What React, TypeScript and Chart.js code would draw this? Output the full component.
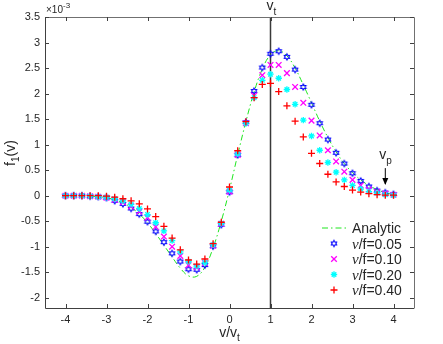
import React, { useEffect, useRef } from "react";
import { Chart, registerables } from "chart.js";

Chart.register(...registerables);

// v / v_t sample positions
const vValues = [
  -4, -3.8, -3.6, -3.4, -3.2, -3, -2.8, -2.6, -2.4, -2.2, -2, -1.8, -1.6, -1.4, -1.2, -1, -0.8, -0.6, -0.4, -0.2,
  0, 0.2, 0.4, 0.6, 0.8, 1, 1.2, 1.4, 1.6, 1.8, 2, 2.2, 2.4, 2.6, 2.8, 3, 3.2, 3.4, 3.6, 3.8, 4,
];

// f1(v) in units of 1e-3
const analytic = [
  0, 0, 0, -0.01, -0.02, -0.04, -0.08, -0.14, -0.23, -0.36, -0.53, -0.74, -0.97, -1.2, -1.42, -1.57, -1.58, -1.4, -1.02, -0.5,
  0.12, 0.8, 1.45, 2.03, 2.48, 2.76, 2.84, 2.74, 2.5, 2.17, 1.82, 1.46, 1.14, 0.86, 0.63, 0.45, 0.31, 0.2, 0.12, 0.06, 0.02,
];
const nu005 = [
  0, 0, 0, -0.01, -0.02, -0.04, -0.1, -0.16, -0.25, -0.36, -0.51, -0.7, -0.91, -1.13, -1.29, -1.44, -1.45, -1.36, -0.99, -0.57,
  0.07, 0.8, 1.44, 2.05, 2.51, 2.78, 2.83, 2.72, 2.47, 2.13, 1.78, 1.42, 1.1, 0.84, 0.63, 0.44, 0.29, 0.18, 0.1, 0.06, 0.03,
];
const nu010 = [
  0, 0, 0, -0.01, -0.02, -0.04, -0.08, -0.13, -0.21, -0.31, -0.43, -0.61, -0.8, -1.0, -1.18, -1.36, -1.4, -1.32, -0.98, -0.55,
  0.08, 0.8, 1.42, 1.96, 2.36, 2.56, 2.56, 2.4, 2.13, 1.82, 1.47, 1.18, 0.89, 0.67, 0.47, 0.31, 0.2, 0.12, 0.07, 0.04, 0.02,
];
const nu020 = [
  0, 0, 0, -0.01, -0.02, -0.03, -0.06, -0.1, -0.17, -0.25, -0.37, -0.53, -0.69, -0.88, -1.1, -1.29, -1.38, -1.31, -0.96, -0.54,
  0.11, 0.82, 1.42, 1.92, 2.26, 2.38, 2.3, 2.08, 1.79, 1.48, 1.17, 0.89, 0.65, 0.46, 0.31, 0.2, 0.13, 0.08, 0.05, 0.02, 0.01,
];
const nu040 = [
  0, 0, 0, 0, 0, -0.01, -0.03, -0.06, -0.1, -0.16, -0.26, -0.41, -0.6, -0.83, -1.06, -1.26, -1.34, -1.24, -0.94, -0.52,
  0.17, 0.88, 1.45, 1.92, 2.18, 2.2, 2.04, 1.76, 1.46, 1.15, 0.83, 0.63, 0.42, 0.27, 0.18, 0.11, 0.07, 0.04, 0.02, 0.01, 0.01,
];

const xTicks = [-4, -3, -2, -1, 0, 1, 2, 3, 4];
const yTicks = [-2, -1.5, -1, -0.5, 0, 0.5, 1, 1.5, 2, 2.5, 3, 3.5];
const legendLabels = ["Analytic", "0.05", "0.10", "0.20", "0.40"];

const SANS = '"Liberation Sans", Arial, sans-serif';
const SERIF = '"Liberation Serif", "Times New Roman", serif';
const TXT = "#262626";
const GREEN = "#1ee61e";

function hexagramPath(g: CanvasRenderingContext2D, cx: number, cy: number, R: number) {
  g.beginPath();
  for (let i = 0; i < 12; i++) {
    const r = i % 2 === 0 ? R : R / Math.sqrt(3);
    const a = -Math.PI / 2 + (i * Math.PI) / 6;
    const px = cx + r * Math.cos(a);
    const py = cy + r * Math.sin(a);
    if (i === 0) g.moveTo(px, py);
    else g.lineTo(px, py);
  }
  g.closePath();
}

function makeHexagram(color: string, R: number, lw: number) {
  const size = 12;
  const c = document.createElement("canvas");
  c.width = size;
  c.height = size;
  const g = c.getContext("2d")!;
  hexagramPath(g, size / 2, size / 2, R);
  g.strokeStyle = color;
  g.lineWidth = lw;
  g.stroke();
  return c;
}

const toPts = (ys: number[]) => vValues.map((v, i) => ({ x: v, y: ys[i] }));

export default function App() {
  const ref = useRef<HTMLCanvasElement | null>(null);

  useEffect(() => {
    if (!ref.current) return;
    const hex = makeHexagram("#0000ff", 3.1, 1.1);

    const overlay = {
      id: "overlay",
      beforeDatasetsDraw(chart: any) {
        const { ctx, chartArea: ca, scales } = chart;
        const x = scales.x;
        const px = x.getPixelForValue(1);
        ctx.save();
        ctx.strokeStyle = "#3a3a3a";
        ctx.lineWidth = 1.5;
        ctx.beginPath();
        ctx.moveTo(px, ca.top);
        ctx.lineTo(px, ca.bottom);
        ctx.stroke();
        ctx.restore();
      },
      afterDraw(chart: any) {
        const { ctx, chartArea: ca, scales } = chart;
        const x = scales.x;
        const y = scales.y;
        ctx.save();
        // box
        ctx.lineWidth = 1;
        ctx.strokeStyle = "#404040";
        ctx.beginPath();
        ctx.moveTo(ca.left + 0.5, ca.top);
        ctx.lineTo(ca.left + 0.5, ca.bottom + 0.5);
        ctx.lineTo(ca.right, ca.bottom + 0.5);
        ctx.stroke();
        ctx.strokeStyle = "#707070";
        ctx.beginPath();
        ctx.moveTo(ca.left, ca.top + 0.5);
        ctx.lineTo(ca.right + 0.5, ca.top + 0.5);
        ctx.lineTo(ca.right + 0.5, ca.bottom + 0.5);
        ctx.stroke();
        // inward ticks
        ctx.strokeStyle = "#404040";
        const tl = 4;
        ctx.beginPath();
        xTicks.forEach((t) => {
          const p = Math.round(x.getPixelForValue(t)) + 0.5;
          ctx.moveTo(p, ca.bottom);
          ctx.lineTo(p, ca.bottom - tl);
          ctx.moveTo(p, ca.top);
          ctx.lineTo(p, ca.top + tl);
        });
        yTicks.forEach((t) => {
          const p = Math.round(y.getPixelForValue(t)) + 0.5;
          ctx.moveTo(ca.left, p);
          ctx.lineTo(ca.left + tl, p);
          ctx.moveTo(ca.right, p);
          ctx.lineTo(ca.right - tl, p);
        });
        ctx.stroke();

        ctx.fillStyle = TXT;
        ctx.textBaseline = "alphabetic";
        // x10^-3
        ctx.textAlign = "left";
        ctx.font = `10px ${SANS}`;
        ctx.fillText("\u00d710", ca.left + 1, 13);
        const w10 = ctx.measureText("\u00d710").width;
        ctx.font = `8px ${SANS}`;
        ctx.fillText("-3", ca.left + 1 + w10, 8);

        // v_t label
        const pv = x.getPixelForValue(1);
        ctx.font = `14px ${SANS}`;
        ctx.fillText("v", pv - 4, 10);
        ctx.font = `10px ${SANS}`;
        ctx.fillText("t", pv + 3, 15);

        // v_p label and arrow
        const pa = x.getPixelForValue(3.8);
        ctx.font = `14px ${SANS}`;
        ctx.fillText("v", pa - 6, 159);
        ctx.font = `10px ${SANS}`;
        ctx.fillText("p", pa + 1, 164);
        const a0 = y.getPixelForValue(0.54);
        const a1 = y.getPixelForValue(0.23);
        ctx.strokeStyle = "#000";
        ctx.lineWidth = 1;
        ctx.beginPath();
        ctx.moveTo(pa, a0);
        ctx.lineTo(pa, a1);
        ctx.stroke();
        ctx.fillStyle = "#000";
        ctx.beginPath();
        ctx.moveTo(pa, a1 + 1);
        ctx.lineTo(pa - 3, a1 - 6);
        ctx.lineTo(pa + 3, a1 - 6);
        ctx.closePath();
        ctx.fill();
        ctx.fillStyle = TXT;

        // x axis title v/v_t
        ctx.font = `14px ${SANS}`;
        const s1 = "v/v";
        const w1 = ctx.measureText(s1).width;
        ctx.font = `10px ${SANS}`;
        const w2 = ctx.measureText("t").width;
        const cx = (ca.left + ca.right) / 2;
        const sx = cx - (w1 + w2) / 2;
        ctx.font = `14px ${SANS}`;
        ctx.fillText(s1, sx, 337);
        ctx.font = `10px ${SANS}`;
        ctx.fillText("t", sx + w1, 341);

        // y axis title f_1(v)
        ctx.save();
        ctx.translate(15, 153);
        ctx.rotate(-Math.PI / 2);
        ctx.font = `14px ${SANS}`;
        const wf = ctx.measureText("f").width;
        const wv = ctx.measureText("(v)").width;
        ctx.font = `10px ${SANS}`;
        const ws = ctx.measureText("1").width;
        const tot = wf + ws + wv;
        let ox = -tot / 2;
        ctx.font = `14px ${SANS}`;
        ctx.fillText("f", ox, 0);
        ox += wf;
        ctx.font = `10px ${SANS}`;
        ctx.fillText("1", ox, 4);
        ox += ws;
        ctx.font = `14px ${SANS}`;
        ctx.fillText("(v)", ox, 0);
        ctx.restore();

        // legend
        const lx = 334;
        const tx = 352;
        const rows = [228, 243.5, 259, 274.5, 290];
        ctx.strokeStyle = GREEN;
        ctx.lineWidth = 1;
        ctx.setLineDash([6, 3, 1.5, 3]);
        ctx.beginPath();
        ctx.moveTo(322, rows[0]);
        ctx.lineTo(348, rows[0]);
        ctx.stroke();
        ctx.setLineDash([]);
        ctx.fillStyle = TXT;
        ctx.font = `14px ${SANS}`;
        ctx.fillText(legendLabels[0], tx, rows[0] + 5);
        ctx.drawImage(hex, lx - 6, rows[1] - 6);
        ctx.lineWidth = 1.3;
        ctx.strokeStyle = "#ff00ff";
        ctx.beginPath();
        const d = 2.8;
        ctx.moveTo(lx - d, rows[2] - d);
        ctx.lineTo(lx + d, rows[2] + d);
        ctx.moveTo(lx - d, rows[2] + d);
        ctx.lineTo(lx + d, rows[2] - d);
        ctx.stroke();
        ctx.strokeStyle = "#00ffff";
        ctx.beginPath();
        const r = 3.2;
        const q = r * 0.707;
        ctx.moveTo(lx - r, rows[3]);
        ctx.lineTo(lx + r, rows[3]);
        ctx.moveTo(lx, rows[3] - r);
        ctx.lineTo(lx, rows[3] + r);
        ctx.moveTo(lx - q, rows[3] - q);
        ctx.lineTo(lx + q, rows[3] + q);
        ctx.moveTo(lx - q, rows[3] + q);
        ctx.lineTo(lx + q, rows[3] - q);
        ctx.stroke();
        ctx.strokeStyle = "#ff0000";
        ctx.beginPath();
        const c = 3.5;
        ctx.moveTo(lx - c, rows[4]);
        ctx.lineTo(lx + c, rows[4]);
        ctx.moveTo(lx, rows[4] - c);
        ctx.lineTo(lx, rows[4] + c);
        ctx.stroke();
        for (let i = 1; i < 5; i++) {
          let xx = tx;
          ctx.font = `italic 15px ${SERIF}`;
          ctx.fillText("\u03bd", xx, rows[i] + 5);
          xx += ctx.measureText("\u03bd").width;
          ctx.font = `14px ${SANS}`;
          ctx.fillText("/f=" + legendLabels[i], xx, rows[i] + 5);
        }
        ctx.restore();
      },
    };

    const chart = new Chart(ref.current, {
      type: "scatter",
      data: {
        datasets: [
          {
            label: "Analytic",
            data: toPts(analytic),
            showLine: true,
            borderColor: GREEN,
            borderWidth: 1,
            borderDash: [6, 3, 1.5, 3],
            pointRadius: 0,
            tension: 0.4,
            order: 5,
          },
          {
            label: "0.05",
            data: toPts(nu005),
            pointStyle: hex as any,
            borderColor: "#0000ff",
            backgroundColor: "#0000ff",
            order: 4,
          },
          {
            label: "0.10",
            data: toPts(nu010),
            pointStyle: "crossRot",
            pointRadius: 4,
            borderColor: "#ff00ff",
            borderWidth: 1.3,
            order: 3,
          },
          {
            label: "0.20",
            data: toPts(nu020),
            pointStyle: "star",
            pointRadius: 3.2,
            borderColor: "#00ffff",
            borderWidth: 1.3,
            order: 2,
          },
          {
            label: "0.40",
            data: toPts(nu040),
            pointStyle: "cross",
            pointRadius: 3.5,
            borderColor: "#ff0000",
            borderWidth: 1.3,
            order: 1,
          },
        ],
      },
      options: {
        responsive: false,
        animation: false,
        layout: { padding: { left: 0, top: 17, right: 29, bottom: 0 } },
        plugins: { legend: { display: false }, tooltip: { enabled: false } },
        elements: { point: { hoverRadius: 0 } },
        scales: {
          x: {
            type: "linear",
            min: -4.5,
            max: 4.5,
            grid: { display: false, drawTicks: false },
            border: { display: false },
            afterBuildTicks: (s: any) => {
              s.ticks = xTicks.map((v) => ({ value: v }));
            },
            afterFit: (s: any) => {
              s.height = 36;
            },
            ticks: {
              padding: 5,
              color: TXT,
              font: { family: SANS, size: 11 },
              callback: (v: any) => String(v),
            },
          },
          y: {
            type: "linear",
            min: -2.2,
            max: 3.5,
            grid: { display: false, drawTicks: false },
            border: { display: false },
            afterBuildTicks: (s: any) => {
              s.ticks = yTicks.map((v) => ({ value: v }));
            },
            afterFit: (s: any) => {
              s.width = 45;
            },
            ticks: {
              padding: 5,
              color: TXT,
              font: { family: SANS, size: 11 },
              callback: (v: any) => String(v),
            },
          },
        },
      },
      plugins: [overlay],
    });
    return () => chart.destroy();
  }, []);

  return (
    <div style={{ position: "fixed", left: 0, top: 0, width: 443, height: 344, background: "#fff" }}>
      <canvas ref={ref} width={443} height={344} />
    </div>
  );
}
